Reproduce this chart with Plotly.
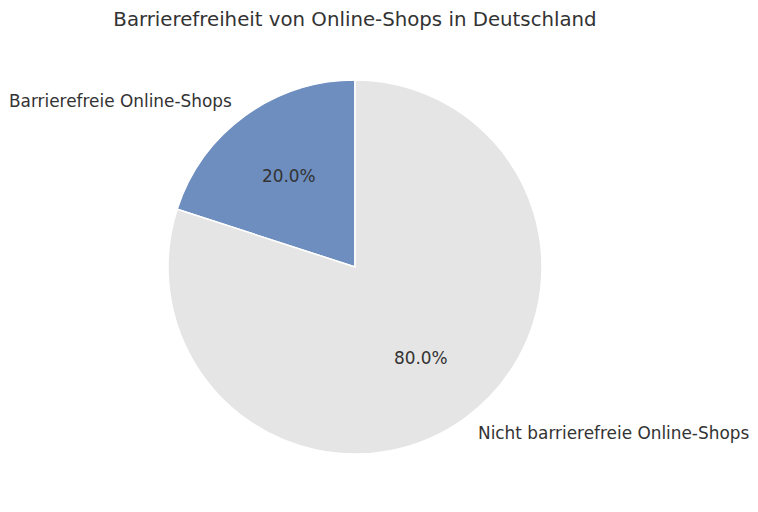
import math
import plotly.graph_objects as go

labels = ["Barrierefreie Online-Shops", "Nicht barrierefreie Online-Shops"]
values = [20, 80]
colors = ["#6d8ebf", "#e5e5e5"]

# the page puts the figure 8px in from the corner, so the figure is a bit smaller
W, H = 750, 504
cx, cy, r = 347, 259, 187  # pie centre / radius in pixels (from top-left of figure)

total = sum(values)

fig = go.Figure()
fig.add_trace(go.Pie(
    labels=labels,
    values=values,
    sort=False,
    direction="counterclockwise",
    # plotly's counterclockwise pies end the first slice at `rotation`, so shift it back
    rotation=-360.0 * values[0] / total,
    marker=dict(colors=colors, line=dict(color="white", width=1.5)),
    textinfo="none",
    hoverinfo="label+percent",
    showlegend=False,
    domain=dict(x=[(cx - r) / W, (cx + r) / W], y=[(H - cy - r) / H, (H - cy + r) / H]),
))

# labels at 1.1r and percentages at 0.6r, like matplotlib's autopct
start = 90.0
for lab, v in zip(labels, values):
    span = 360.0 * v / total
    mid = math.radians(start + span / 2)
    start += span
    lx = cx + 1.1 * r * math.cos(mid)
    ly = cy - 1.1 * r * math.sin(mid)
    px_ = cx + 0.6 * r * math.cos(mid)
    py_ = cy - 0.6 * r * math.sin(mid)
    fig.add_annotation(x=lx / W, y=1 - ly / H, xref="paper", yref="paper", text=lab,
                       showarrow=False, xanchor="right" if math.cos(mid) < 0 else "left",
                       yanchor="middle", font=dict(size=16.9, color="#333333"))
    fig.add_annotation(x=px_ / W, y=1 - py_ / H, xref="paper", yref="paper",
                       text="%.1f%%" % (100.0 * v / total), showarrow=False,
                       xanchor="center", yanchor="middle", font=dict(size=16.9, color="#333333"))

fig.update_layout(
    width=W, height=H,
    margin=dict(l=0, r=0, t=0, b=0),
    paper_bgcolor="white",
    font=dict(family="DejaVu Sans", color="#333333"),
    title=dict(text="Barrierefreiheit von Online-Shops in Deutschland", x=347 / W, xanchor="center",
               y=1 - 11 / H, yanchor="middle", font=dict(size=19.75, color="#333333")),
)

fig.write_html("out.html")
